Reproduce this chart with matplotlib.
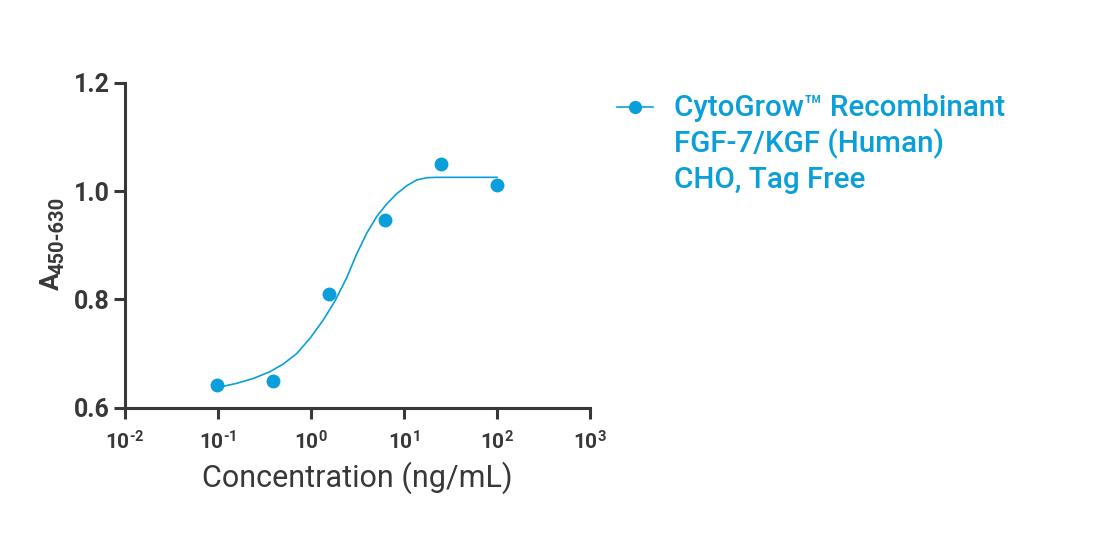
import numpy as np
import matplotlib
matplotlib.use("Agg")
import matplotlib.pyplot as plt
from matplotlib.lines import Line2D

W, H = 1104, 534

# serial 4-fold dilution, ng/mL
conc = [0.09765625, 0.390625, 1.5625, 6.25, 25, 100]
absorb = [0.641, 0.650, 0.809, 0.947, 1.049, 1.012]

# fitted curve
fit_conc = [0.0977, 0.159, 0.240, 0.362, 0.504, 0.702, 0.975, 1.356, 1.811, 2.42, 3.10,
            3.97, 5.09, 6.51, 8.35, 10.7, 13.7, 17.5, 22.5, 100]
fit_abs = [0.637, 0.645, 0.654, 0.6665, 0.6807, 0.700, 0.728, 0.762, 0.797, 0.840, 0.884,
           0.922, 0.953, 0.976, 0.995, 1.0098, 1.0204, 1.0246, 1.0253, 1.0253]

xticks = [1e-2, 1e-1, 1e0, 1e1, 1e2, 1e3]
xticklabels = ["$10^{\\text{-}2}$", "$10^{\\text{-}1}$", "$10^{0}$", "$10^{1}$", "$10^{2}$", "$10^{3}$"]
yticks = [0.6, 0.8, 1.0, 1.2]
yticklabels = ["0.6", "0.8", "1.0", "1.2"]

legend_lines = ["CytoGrow\u2122 Recombinant", "FGF-7/KGF (Human)", "CHO, Tag Free"]

blue = "#0a9fdb"
dark = "#383838"

plt.rcParams["font.family"] = ["Roboto", "DejaVu Sans"]
plt.rcParams["mathtext.fontset"] = "custom"
plt.rcParams["mathtext.rm"] = "Roboto:bold"
plt.rcParams["mathtext.bf"] = "Roboto:bold"
plt.rcParams["mathtext.it"] = "Roboto:bold"

fig = plt.figure(figsize=(W / 100, H / 100), dpi=100)
ax = fig.add_axes([125 / W, 1 - 407.7 / H, 465 / W, 325 / H])

ax.plot(fit_conc, fit_abs, color=blue, lw=1.2)
ax.plot(conc, absorb, "o", color=blue, ms=10, mec="none")

ax.set_xscale("log")
ax.set_xlim(1e-2, 1e3)
ax.set_ylim(0.6, 1.2)
ax.set_xticks(xticks)
ax.set_xticklabels(xticklabels)
ax.minorticks_off()
ax.set_yticks(yticks)
ax.set_yticklabels(yticklabels)

for s in ["top", "right"]:
    ax.spines[s].set_visible(False)
for s in ["left", "bottom"]:
    ax.spines[s].set_linewidth(2.2)
    ax.spines[s].set_color(dark)

ax.tick_params(axis="both", length=8, width=2.2, color=dark, labelcolor=dark)
ax.tick_params(axis="x", labelsize=15, pad=8)
ax.tick_params(axis="y", labelsize=18, pad=3)
for t in ax.get_yticklabels():
    t.set_fontweight("bold")

ax.set_xlabel("Concentration (ng/mL)", fontsize=22, color=dark, labelpad=6)

# y label with subscript
fig.text(52 / W, 1 - 281 / H, "A", rotation=90, fontsize=19, fontweight="bold",
         color=dark, ha="center", va="center")
fig.text(58 / W, 1 - 235 / H, "450-630", rotation=90, fontsize=14.5, fontweight="bold",
         color=dark, ha="center", va="center")

# legend key + label
key_y = 1 - 106.7 / H
fig.add_artist(Line2D([617 / W, 635 / W, 653 / W], [key_y] * 3, color=blue, lw=1.2,
                      marker="o", ms=9.5, mec="none", markevery=[1]))
for i, txt in enumerate(legend_lines):
    fig.text(674 / W, 1 - (116 + 36 * i) / H, txt, fontsize=21.3, fontweight="medium",
             color=blue, ha="left", va="baseline")

fig.savefig("out.png", dpi=100)
